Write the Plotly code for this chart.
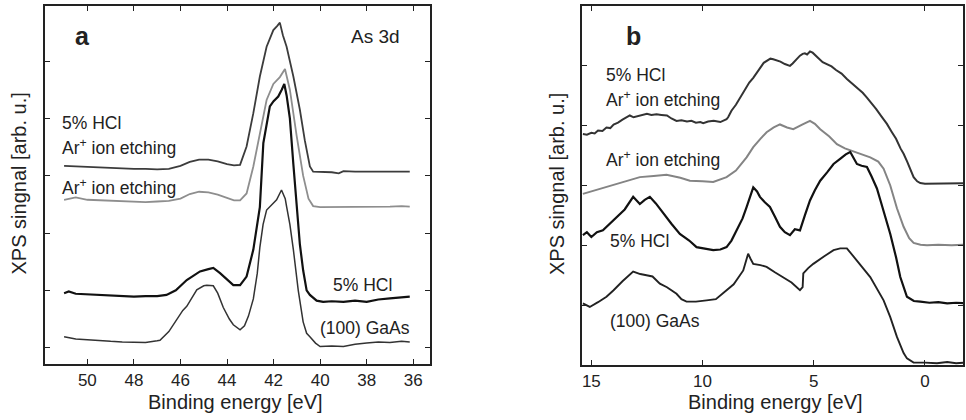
import plotly.graph_objects as go

# ---------------- Panel a: As 3d ----------------
a_top_E = [51.0, 50.5, 50.0, 49.5, 49.0, 48.5, 48.0, 47.5, 47.0, 46.5, 46.0, 45.6, 45.2, 44.8, 44.4, 44.0, 43.7, 43.44, 43.16, 42.87, 42.59, 42.3, 42.01, 41.85, 41.73, 41.6, 41.44, 41.15, 40.87, 40.66, 40.44, 40.3, 40.0, 39.5, 39.2, 39.0, 38.5, 38.0, 37.5, 37.0, 36.5, 36.15]
a_top_Y = [3.17, 3.16, 3.15, 3.14, 3.14, 3.13, 3.12, 3.12, 3.11, 3.12, 3.17, 3.24, 3.28, 3.28, 3.25, 3.20, 3.18, 3.19, 3.51, 4.09, 4.73, 5.25, 5.54, 5.61, 5.67, 5.45, 5.25, 4.73, 4.15, 3.62, 3.16, 3.07, 3.07, 3.06, 3.04, 3.08, 3.07, 3.07, 3.07, 3.08, 3.07, 3.07]

a_gray_E = [51.0, 50.7, 50.5, 50.0, 49.5, 49.0, 48.5, 48.0, 47.5, 47.0, 46.5, 46.0, 45.6, 45.2, 44.8, 44.4, 44.0, 43.7, 43.44, 43.16, 42.87, 42.59, 42.3, 42.01, 41.73, 41.51, 41.3, 41.01, 40.73, 40.5, 40.3, 40.0, 39.5, 39.0, 38.5, 38.0, 37.5, 37.0, 36.5, 36.15]
a_gray_Y = [2.58, 2.60, 2.62, 2.58, 2.57, 2.56, 2.55, 2.54, 2.54, 2.55, 2.56, 2.60, 2.68, 2.72, 2.71, 2.67, 2.61, 2.57, 2.57, 2.69, 3.16, 3.72, 4.32, 4.60, 4.72, 4.86, 4.50, 3.70, 3.00, 2.60, 2.47, 2.45, 2.45, 2.46, 2.45, 2.46, 2.45, 2.46, 2.47, 2.46]

a_hcl_E = [51.0, 50.8, 50.5, 50.0, 49.5, 49.0, 48.5, 48.0, 47.5, 47.0, 46.6, 46.2, 45.73, 45.4, 45.16, 44.8, 44.59, 44.3, 44.0, 43.73, 43.44, 43.16, 42.87, 42.59, 42.44, 42.16, 42.0, 41.8, 41.65, 41.54, 41.44, 41.3, 41.15, 41.01, 40.87, 40.73, 40.58, 40.44, 40.15, 39.87, 39.5, 39.0, 38.5, 38.0, 37.5, 37.0, 36.5, 36.15]
a_hcl_Y = [0.95, 0.98, 0.94, 0.93, 0.92, 0.92, 0.90, 0.89, 0.90, 0.90, 0.92, 1.00, 1.18, 1.26, 1.33, 1.37, 1.39, 1.30, 1.18, 1.09, 1.09, 1.24, 1.71, 2.45, 3.57, 4.21, 4.30, 4.38, 4.50, 4.60, 4.40, 4.00, 3.20, 2.50, 1.80, 1.35, 1.00, 0.92, 0.82, 0.80, 0.81, 0.80, 0.82, 0.80, 0.84, 0.86, 0.88, 0.89]

a_gaas_E = [51.0, 50.5, 50.0, 49.5, 49.0, 48.5, 48.0, 47.5, 47.0, 46.88, 46.5, 46.16, 45.9, 45.73, 45.5, 45.3, 45.0, 44.87, 44.59, 44.4, 44.16, 43.9, 43.73, 43.44, 43.25, 43.08, 42.87, 42.7, 42.59, 42.45, 42.3, 42.16, 42.01, 41.87, 41.66, 41.5, 41.44, 41.3, 41.15, 40.94, 40.73, 40.58, 40.44, 40.2, 40.0, 39.5, 39.0, 38.5, 38.0, 37.5, 37.0, 36.5, 36.15]
a_gaas_Y = [0.19, 0.15, 0.14, 0.12, 0.11, 0.10, 0.10, 0.09, 0.12, 0.13, 0.28, 0.48, 0.65, 0.72, 0.88, 1.01, 1.08, 1.09, 1.08, 0.95, 0.70, 0.50, 0.40, 0.31, 0.38, 0.55, 0.85, 1.30, 1.75, 2.15, 2.40, 2.46, 2.52, 2.58, 2.75, 2.60, 2.46, 2.15, 1.71, 1.00, 0.45, 0.25, 0.19, 0.08, 0.02, 0.03, 0.02, 0.06, 0.08, 0.10, 0.09, 0.11, 0.10]

# ---------------- Panel b: valence band ----------------
b_top_E = [15.38, 15.2, 15.0, 14.85, 14.7, 14.5, 14.32, 14.15, 14.0, 13.8, 13.6, 13.45, 13.27, 13.1, 12.9, 12.7, 12.5, 12.3, 12.07, 11.85, 11.6, 11.4, 11.17, 10.95, 10.7, 10.5, 10.3, 10.1, 9.97, 9.75, 9.5, 9.2, 8.92, 8.85, 8.7, 8.5, 8.3, 8.1, 7.9, 7.72, 7.55, 7.4, 7.25, 7.12, 6.95, 6.82, 6.65, 6.5, 6.3, 6.07, 5.95, 5.85, 5.72, 5.62, 5.5, 5.4, 5.3, 5.17, 5.05, 4.95, 4.8, 4.6, 4.41, 4.2, 4.0, 3.75, 3.51, 3.25, 3.0, 2.8, 2.61, 2.4, 2.2, 1.95, 1.71, 1.5, 1.3, 1.1, 0.96, 0.8, 0.7, 0.51, 0.35, 0.21, 0.0, -0.3, -0.5, -0.8, -1.0, -1.3, -1.5, -1.82]
b_top_Y = [3.86, 3.85, 3.88, 3.87, 3.92, 3.91, 3.97, 3.96, 4.02, 4.05, 4.10, 4.13, 4.17, 4.14, 4.16, 4.19, 4.20, 4.18, 4.19, 4.18, 4.17, 4.12, 4.08, 4.09, 4.07, 4.08, 4.05, 4.06, 4.04, 4.07, 4.08, 4.06, 4.11, 4.14, 4.25, 4.35, 4.48, 4.60, 4.72, 4.80, 4.90, 4.97, 5.05, 5.08, 5.12, 5.11, 5.09, 5.07, 5.03, 5.00, 5.04, 5.08, 5.12, 5.17, 5.20, 5.21, 5.19, 5.24, 5.22, 5.18, 5.13, 5.06, 5.03, 4.99, 4.93, 4.87, 4.78, 4.70, 4.62, 4.55, 4.47, 4.38, 4.28, 4.15, 4.03, 3.90, 3.78, 3.62, 3.53, 3.40, 3.30, 3.14, 3.07, 3.04, 3.03, 3.03, 3.04, 3.03, 3.04, 3.03, 3.04, 3.04]

b_gray_E = [15.38, 15.0, 14.32, 13.6, 12.82, 12.2, 11.62, 11.0, 10.57, 10.0, 9.52, 8.92, 8.5, 8.02, 7.72, 7.4, 7.12, 6.8, 6.52, 6.2, 5.92, 5.5, 5.17, 4.95, 4.71, 4.3, 3.96, 3.6, 3.21, 2.8, 2.46, 2.1, 1.86, 1.56, 1.26, 0.96, 0.71, 0.51, 0.2, -0.09, -0.6, -1.2, -1.82]
b_gray_Y = [2.86, 2.90, 2.97, 3.05, 3.14, 3.16, 3.18, 3.13, 3.08, 3.07, 3.06, 3.14, 3.25, 3.47, 3.64, 3.78, 3.89, 3.97, 4.02, 3.97, 3.94, 4.02, 4.08, 4.03, 3.94, 3.82, 3.69, 3.62, 3.57, 3.52, 3.47, 3.40, 3.28, 3.00, 2.62, 2.31, 2.12, 2.04, 2.01, 2.00, 2.01, 2.00, 2.01]

b_hcl_E = [15.38, 15.2, 15.0, 14.75, 14.48, 14.2, 13.87, 13.5, 13.12, 12.82, 12.6, 12.37, 12.1, 11.77, 11.4, 11.02, 10.6, 10.27, 9.9, 9.52, 9.2, 8.92, 8.7, 8.47, 8.2, 8.02, 7.85, 7.72, 7.55, 7.42, 7.2, 6.97, 6.75, 6.52, 6.3, 6.07, 5.85, 5.62, 5.4, 5.17, 4.95, 4.71, 4.4, 4.11, 3.8, 3.56, 3.36, 3.2, 3.06, 2.85, 2.61, 2.4, 2.16, 2.0, 1.71, 1.56, 1.3, 1.11, 0.81, 0.5, 0.21, -0.2, -0.6, -1.0, -1.4, -1.82]
b_hcl_Y = [2.17, 2.22, 2.14, 2.22, 2.25, 2.35, 2.47, 2.60, 2.81, 2.69, 2.76, 2.81, 2.70, 2.53, 2.36, 2.19, 2.08, 1.97, 1.94, 1.92, 1.93, 1.97, 2.08, 2.25, 2.45, 2.64, 2.85, 2.97, 2.90, 2.81, 2.72, 2.64, 2.48, 2.31, 2.22, 2.17, 2.27, 2.25, 2.50, 2.75, 2.92, 3.08, 3.22, 3.36, 3.45, 3.52, 3.56, 3.45, 3.36, 3.33, 3.31, 3.15, 2.95, 2.75, 2.40, 2.19, 1.80, 1.47, 1.14, 1.07, 1.06, 1.04, 1.05, 1.03, 1.04, 1.03]

b_gaas_E = [15.38, 15.07, 14.7, 14.32, 14.0, 13.6, 13.12, 12.8, 12.52, 12.25, 11.92, 11.6, 11.17, 10.95, 10.72, 10.3, 9.82, 9.4, 8.92, 8.6, 8.17, 7.95, 7.85, 7.72, 7.4, 7.12, 6.75, 6.37, 6.0, 5.62, 5.5, 5.47, 5.25, 5.02, 4.8, 4.56, 4.11, 3.81, 3.51, 3.06, 2.46, 1.86, 1.56, 1.26, 0.96, 0.81, 0.51, 0.0, -0.54, -1.0, -1.4, -1.82]
b_gaas_Y = [1.03, 0.97, 1.05, 1.14, 1.25, 1.40, 1.56, 1.52, 1.50, 1.48, 1.36, 1.30, 1.19, 1.10, 1.06, 1.06, 1.08, 1.10, 1.25, 1.35, 1.58, 1.86, 1.78, 1.69, 1.67, 1.64, 1.55, 1.47, 1.38, 1.25, 1.30, 1.53, 1.62, 1.69, 1.75, 1.81, 1.92, 1.95, 1.95, 1.75, 1.47, 1.08, 0.80, 0.47, 0.20, 0.11, 0.04, 0.04, 0.03, 0.05, 0.03, 0.04]

a_xticks = [50, 48, 46, 44, 42, 40, 38, 36]
b_xticks = [15, 10, 5, 0]
a_yticks = [0, 1, 2, 3, 4, 5]
b_yticks = [1, 2, 3, 4, 5]

FONT = "Liberation Sans, Arial, sans-serif"
W, H = 966, 420

fig = go.Figure()

def add(x, y, color, width, xa, ya):
    fig.add_trace(go.Scatter(x=x, y=y, mode="lines", xaxis=xa, yaxis=ya,
                             line=dict(color=color, width=width), showlegend=False,
                             hoverinfo="skip"))

add(a_top_E, a_top_Y, "#3c3c3c", 1.8, "x", "y")
add(a_gray_E, a_gray_Y, "#8e8e8e", 1.8, "x", "y")
add(a_hcl_E, a_hcl_Y, "#111111", 2.2, "x", "y")
add(a_gaas_E, a_gaas_Y, "#333333", 1.5, "x", "y")

add(b_top_E, b_top_Y, "#333333", 2.0, "x2", "y2")
add(b_gray_E, b_gray_Y, "#848484", 2.0, "x2", "y2")
add(b_hcl_E, b_hcl_Y, "#111111", 2.2, "x2", "y2")
add(b_gaas_E, b_gaas_Y, "#222222", 1.9, "x2", "y2")

axis_common = dict(showline=True, linecolor="#222", linewidth=1.5, mirror="ticks",
                   ticks="inside", ticklen=5, tickwidth=1, tickcolor="#222",
                   showgrid=False, zeroline=False,
                   tickfont=dict(family=FONT, size=17, color="#222"))

fig.update_layout(
    width=W, height=H, margin=dict(l=0, r=0, t=0, b=0),
    paper_bgcolor="white", plot_bgcolor="white",
    font=dict(family=FONT, color="#222"),
    xaxis=dict(domain=[45 / W, 430 / W], range=[51.82, 35.28], tickvals=a_xticks,
               anchor="y", **axis_common),
    yaxis=dict(domain=[1 - 364 / H, 1 - 6 / H], range=[-0.285, 5.96], tickvals=a_yticks,
               showticklabels=False, anchor="x", **axis_common),
    xaxis2=dict(domain=[582 / W, 963 / W], range=[15.42, -1.71], tickvals=b_xticks,
                anchor="y2", **axis_common),
    yaxis2=dict(domain=[1 - 365 / H, 1 - 6 / H], range=[0, 6], tickvals=b_yticks,
                showticklabels=False, anchor="x2", **axis_common),
)

def ann(text, x, y, size=17.5, xanchor="left", bold=False, angle=0):
    fig.add_annotation(text=("<b>%s</b>" % text) if bold else text,
                       x=x / W, y=1 - y / H, xref="paper", yref="paper",
                       xanchor=xanchor, yanchor="middle", showarrow=False, textangle=angle,
                       font=dict(family=FONT, size=size, color="#222"))

# panel a labels
ann("a", 82, 36, size=25, xanchor="center", bold=True)
ann("As 3d", 402, 36, size=19, xanchor="right")
ann("5% HCl", 60, 123)
ann("Ar<sup>+</sup> ion etching", 60, 147)
ann("Ar<sup>+</sup> ion etching", 60, 187)
ann("5% HCl", 394, 285, xanchor="right")
ann("(100) GaAs", 412, 328, xanchor="right")
ann("Binding energy [eV]", 235, 402, size=20, xanchor="center")
ann("XPS singnal [arb. u.]", 18.5, 184, size=20, xanchor="center", angle=-90)

# panel b labels
ann("b", 633, 36, size=25, xanchor="center", bold=True)
ann("5% HCl", 604, 75)
ann("Ar<sup>+</sup> ion etching", 604, 99)
ann("Ar<sup>+</sup> ion etching", 604, 159)
ann("5% HCl", 608, 241)
ann("(100) GaAs", 608, 321)
ann("Binding energy [eV]", 775, 402, size=20, xanchor="center")
ann("XPS singnal [arb. u.]", 557, 184, size=20, xanchor="center", angle=-90)

fig.write_html("out.html")
